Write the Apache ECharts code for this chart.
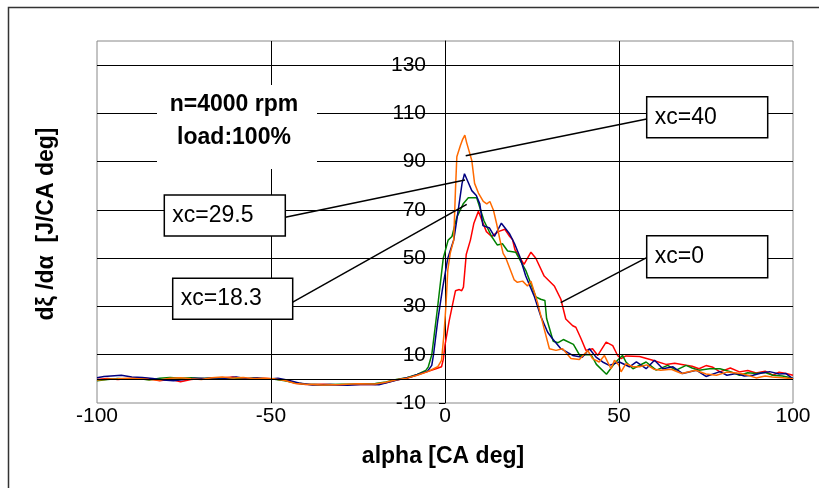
<!DOCTYPE html>
<html>
<head>
<meta charset="utf-8">
<script src="https://cdn.jsdelivr.net/npm/echarts@6/dist/echarts.min.js"></script>
<style>html,body{margin:0;padding:0;background:#fff}#c{width:819px;height:488px}</style>
</head>
<body>
<div id="c"></div>
<script>
// ---- data (alpha [CA deg], dξ/dα [J/CA deg]) ----
const xTicks = [-100, -50, 0, 50, 100];
const yTicks = [-10, 10, 30, 50, 70, 90, 110, 130];
const hGrid = [0, 10, 30, 50, 70, 90, 110, 130];
const vGrid = [-50, 50];
const seriesNames = ['xc=0', 'xc=18.3', 'xc=29.5', 'xc=40'];

const red = [[-100,-0.3],[-97,0.2],[-94,-0.3],[-91,0.1],[-88,0.4],[-85,0],[-82,-0.8],[-79,-0.2],[-76,-1.2],[-73,-0.3],[-70,0.2],[-67,-0.2],[-64,0.4],[-61,0.8],[-58,0.2],[-55,-0.2],[-52,0.3],[-49,-0.1],[-46,-0.6],[-43,-1.8],[-40,-2.3],[-35,-2.2],[-30,-2.5],[-25,-2.2],[-20,-2.3],[-17,-1.6],[-14,-0.5],[-11,0.2],[-8,1.6],[-5,3.0],[-2,4.5],[-1,5],[-0.5,8],[0,14],[1.2,24],[2.2,31],[3,36.5],[4.1,37],[4.8,36.5],[5.3,38],[6.1,51.5],[7.3,57.5],[8.3,64.5],[9.6,69.5],[10.5,66],[11.9,61],[13.4,59],[15.3,61],[17.2,62],[18.6,59],[19.4,57.7],[20.1,53.5],[21.3,50.8],[22.7,47.4],[24.7,52.5],[26.1,50],[28.5,42.6],[31.4,38.5],[33.3,33],[34.7,24.8],[36.7,22],[37.6,21.4],[39.1,16.6],[40.5,11.8],[42.4,12.5],[43.9,9.7],[46.3,15.2],[48.2,13.8],[49.6,9.7],[50.6,8.4],[52,9.5],[55.9,9.3],[59.7,7.7],[63.5,6],[66,6.5],[69.3,5.6],[71,5.2],[73,4.2],[75,5.5],[77,4.8],[79,2.9],[82,4.5],[84.6,2.9],[87,3.5],[89.4,2.4],[92,3.2],[94.2,1.5],[96,2.8],[98,2.2],[100,1.5]];

const green = [[-100,-0.8],[-97,-0.3],[-94,0.2],[-91,-0.2],[-88,0.1],[-85,-0.5],[-82,0.3],[-79,0.6],[-76,0.3],[-73,0.5],[-70,0.2],[-67,0.4],[-64,0.1],[-61,0.5],[-58,-0.2],[-55,0.4],[-52,0.1],[-49,-0.2],[-46,-0.8],[-43,-1.6],[-40,-2.2],[-35,-2.4],[-30,-2.2],[-25,-2.1],[-20,-1.9],[-17,-1.3],[-14,-0.3],[-11,0.5],[-8,1.8],[-5.5,3.5],[-4.8,5],[-3.8,10],[-2.1,30],[-0.5,50],[0.9,57.5],[2,59],[3.4,67],[5.3,72.7],[6.7,75],[9.1,75],[10,71],[11.2,65.5],[13.4,59],[15,55.5],[16.5,56],[18,53],[20.3,52.5],[23.2,45],[26.1,34],[27.5,33],[28.7,32.5],[29.2,25],[31.1,15.6],[32.5,15],[34,16.3],[36.9,14.3],[38.8,9.5],[40.7,10.1],[42,10],[43.5,6],[46.4,1.9],[48.3,5.6],[49.8,8],[51,9.7],[52,7],[54,4.2],[57.8,7],[60.7,3.6],[64,5.6],[66.4,3.6],[69.3,5.6],[71,4.5],[73,3.6],[76,4.2],[79,4.2],[82,3],[84.6,1.5],[87,2.5],[89.4,2.2],[92,2.6],[94.2,1.5],[97,1.2],[100,0.3]];

const blue = [[-100,0.5],[-98,1],[-96,1.2],[-93,1.5],[-90,0.8],[-87,0.6],[-84,0.2],[-81,-0.5],[-78,-0.8],[-75,-0.3],[-72,0.3],[-69,0.2],[-66,0.5],[-63,0.3],[-60,0.8],[-57,0.1],[-54,0.5],[-51,-0.2],[-48,0.3],[-45,-0.6],[-42,-1.7],[-38,-2.5],[-33,-2.3],[-28,-2.6],[-23,-2.2],[-19,-2.4],[-16,-1.3],[-13,-0.2],[-10,0.8],[-7,2.2],[-5,3.2],[-3.8,5.6],[-3.3,10],[-2.1,24],[-0.7,37.5],[0.8,50],[2.5,57.5],[3.2,64],[3.9,71],[4.9,81],[5.6,85],[6.5,82],[7.7,78],[9,76],[10,72.5],[10.9,63.5],[12.8,62.5],[14.2,59],[16.2,64.5],[18.6,60],[20,56],[21.4,51],[23.2,42.6],[25.6,34.4],[27.5,26],[29.5,19.3],[30.9,16.6],[33.3,12.5],[36.7,9.7],[39.5,9],[41.5,12.5],[43.4,9],[45.3,7],[47.2,5.6],[50.1,7],[53,5],[55,7],[57.8,4.2],[60.2,7.7],[62.6,4.2],[65.5,5],[68.3,2.2],[72.2,3.6],[75,1],[79,3],[81,1.5],[83.7,2.2],[86,1.2],[88.5,1.5],[91,2.4],[93.3,3],[96,2],[98,2.2],[100,0]];

const orange = [[-100,-0.5],[-97,-0.2],[-94,0],[-91,0.3],[-88,0],[-85,-0.3],[-82,-0.5],[-79,0.3],[-76,0.5],[-73,0],[-70,-0.3],[-67,0.5],[-64,0.8],[-61,0.4],[-58,0.6],[-55,0.2],[-52,0.3],[-49,0],[-46,-0.7],[-43,-1.9],[-40,-2.2],[-35,-2.5],[-30,-2.3],[-25,-2.0],[-20,-2.1],[-17,-1.4],[-14,-0.4],[-11,0.3],[-8,1.5],[-5,3],[-2.1,5],[-1,7.7],[-0.3,18.5],[0.3,31],[0.8,45],[1.5,52],[2.5,57.5],[3,78],[3.4,92],[4.4,96.6],[5,99],[5.7,101],[6.2,98],[6.7,97.4],[7.7,90.5],[8.5,81],[9.6,77],[11,73.5],[12,72.5],[12.9,73.5],[13.9,70],[14.8,64.5],[15.8,57.5],[16.7,52],[17.5,50],[19.9,41],[20.8,40],[22.3,40.5],[23.7,38.5],[24.7,40.5],[26.6,31.6],[28.5,20.7],[30,12.5],[31.9,11.8],[33.8,12.5],[36.2,8.4],[38.6,8],[41,11.8],[42.4,8.4],[44.3,7],[45.8,9.7],[47.7,4.2],[48.7,7.7],[50,5.6],[50.6,2.9],[52,6.3],[54,5],[55.9,5],[58,5.8],[60,4],[62,3.6],[65,4],[68,2.2],[72,3.6],[75,2],[78,1.5],[81,2.8],[85,2.2],[87,1.5],[89.4,0.4],[92,1.2],[94,0.8],[97,0.5],[100,0]];

// ---- chart ----
const FONT = '"Liberation Sans", Arial, sans-serif';
const GRID = {left: 97, right: 26, top: 41, bottom: 85};
const chart = echarts.init(document.getElementById('c'), null, {renderer: 'canvas'});
const colors = ['#ff0000', '#008000', '#000080', '#ff6a00'];
const datasets = [red, green, blue, orange];

// y axis sits where alpha = 0
const plotW = 819 - GRID.left - GRID.right;
const xMin = xTicks[0], xMax = xTicks[xTicks.length - 1];
const yAxisOffset = -plotW * (0 - xMin) / (xMax - xMin);

function box(x, y, w, h, label) {
  return [
    {type: 'rect', z: 20, shape: {x: x, y: y, width: w, height: h},
     style: {fill: '#fff', stroke: '#000', lineWidth: 1.5}},
    {type: 'text', z: 21, x: x + 8, y: y + h / 2,
     style: {text: label, fill: '#000', font: '23px ' + FONT, textAlign: 'left', textVerticalAlign: 'middle'}}
  ];
}
function leader(x1, y1, x2, y2) {
  return {type: 'line', z: 19, shape: {x1: x1, y1: y1, x2: x2, y2: y2},
          style: {stroke: '#000', lineWidth: 1.5}};
}

const graphics = [
  {type: 'rect', z: 0, shape: {x: 8.5, y: 7.5, width: 840, height: 520},
   style: {fill: 'none', stroke: '#333', lineWidth: 1.5}},
  {type: 'rect', z: 15, shape: {x: 157, y: 85, width: 160, height: 84}, style: {fill: '#fff'}},
  {type: 'text', z: 16, x: 234, y: 105,
   style: {text: 'n=4000 rpm', fill: '#000', font: 'bold 23px ' + FONT, textAlign: 'center', textVerticalAlign: 'middle'}},
  {type: 'text', z: 16, x: 234, y: 138,
   style: {text: 'load:100%', fill: '#000', font: 'bold 23px ' + FONT, textAlign: 'center', textVerticalAlign: 'middle'}},
  leader(646.7, 119, 465.7, 155.7),
  leader(285.3, 217.3, 465, 180),
  leader(292.3, 302.3, 466.7, 204.3),
  leader(646.7, 257.7, 560.7, 302.7),
  ...box(646.7, 96.7, 121, 41, seriesNames[3]),
  ...box(164.3, 195, 121, 41, seriesNames[2]),
  ...box(172.7, 278.3, 120, 41, seriesNames[1]),
  ...box(646.7, 235.7, 121, 42, seriesNames[0]),
  {type: 'text', z: 16, x: 443, y: 457,
   style: {text: 'alpha [CA deg]', fill: '#000', font: 'bold 23px ' + FONT, textAlign: 'center', textVerticalAlign: 'middle'}},
  {type: 'text', z: 16, x: 47, y: 224, rotation: Math.PI / 2,
   style: {text: 'dξ /dα  [J/CA deg]', fill: '#000', font: 'bold 23px ' + FONT, textAlign: 'center', textVerticalAlign: 'middle'}}
];

const series = datasets.map((d, i) => ({
  name: seriesNames[i], type: 'line', data: d, z: 3,
  showSymbol: false, symbol: 'none', smooth: false,
  lineStyle: {color: colors[i], width: 1.5}, itemStyle: {color: colors[i]}
}));
series.unshift({
  name: 'grid', type: 'line', data: [], z: 1, silent: true,
  markLine: {
    silent: true, symbol: 'none', animation: false,
    label: {show: false},
    lineStyle: {color: '#000', width: 1, type: 'solid'},
    emphasis: {disabled: true},
    data: hGrid.map(v => ({yAxis: v})).concat(vGrid.map(v => ({xAxis: v})))
  }
});

chart.setOption({
  animation: false,
  backgroundColor: '#fff',
  textStyle: {fontFamily: FONT},
  grid: Object.assign({show: true, borderColor: '#888', borderWidth: 1, backgroundColor: 'transparent'}, GRID),
  xAxis: {
    type: 'value', min: xMin, max: xMax, interval: 50,
    axisLine: {show: false, onZero: false},
    axisTick: {show: false},
    splitLine: {show: false},
    axisLabel: {fontSize: 21, color: '#000', margin: 3, fontFamily: FONT}
  },
  yAxis: {
    type: 'value', min: yTicks[0], max: 140, interval: 20,
    position: 'left', offset: yAxisOffset,
    axisLine: {show: true, onZero: false, lineStyle: {color: '#000', width: 1}},
    axisTick: {show: true, length: 6, lineStyle: {color: '#000'}},
    splitLine: {show: false},
    axisLabel: {fontSize: 21, color: '#000', margin: 19, showMaxLabel: false, fontFamily: FONT}
  },
  graphic: graphics,
  series: series
});
</script>
</body>
</html>
